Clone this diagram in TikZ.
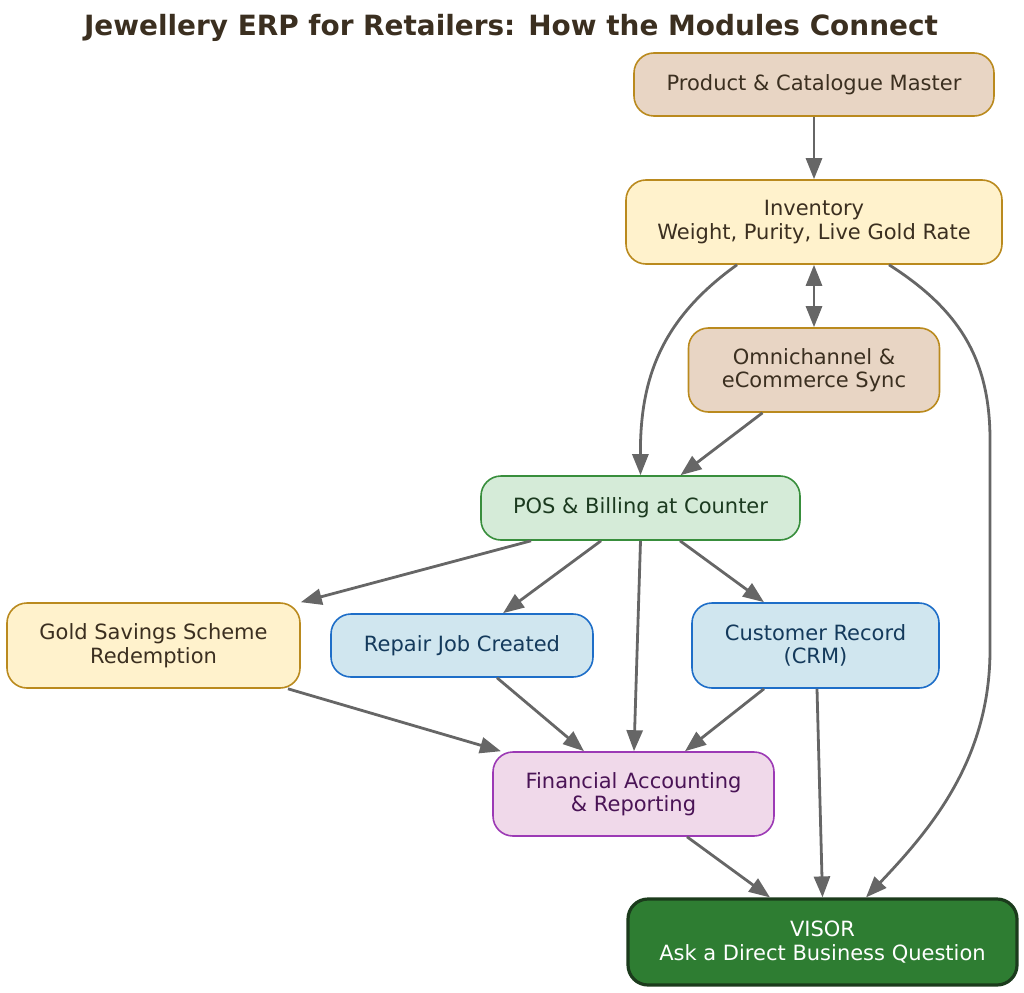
\documentclass[tikz,border=0pt]{standalone}
\usepackage{fontspec}
\setmainfont{DejaVu Sans}
\usetikzlibrary{arrows.meta}
\definecolor{edgegray}{HTML}{666666}
\definecolor{titlebrown}{HTML}{3B2F20}
\definecolor{tanfill}{HTML}{E8D5C4}
\definecolor{creamfill}{HTML}{FFF2CC}
\definecolor{goldline}{HTML}{BA8A1E}
\definecolor{greenfill}{HTML}{D5EBD8}
\definecolor{greenline}{HTML}{388E3C}
\definecolor{greentext}{HTML}{1B3A1F}
\definecolor{bluefill}{HTML}{D0E6EF}
\definecolor{blueline}{HTML}{1E6EC8}
\definecolor{bluetext}{HTML}{143A5C}
\definecolor{purplefill}{HTML}{F0D9EA}
\definecolor{purpleline}{HTML}{9C3AB5}
\definecolor{purpletext}{HTML}{4A1456}
\definecolor{visorfill}{HTML}{2E7D32}
\definecolor{visorline}{HTML}{1B3B1C}
\begin{document}
\begin{tikzpicture}[x=1pt,y=-1pt,
  box/.style={rounded corners=20pt, draw, line width=1.6pt, inner sep=0pt, align=center,
    font=\fontsize{21}{23.5}\selectfont},
  tanbox/.style={box, fill=tanfill, draw=goldline, text=titlebrown},
  creambox/.style={box, fill=creamfill, draw=goldline, text=titlebrown},
  greenbox/.style={box, fill=greenfill, draw=greenline, text=greentext},
  bluebox/.style={box, fill=bluefill, draw=blueline, text=bluetext},
  purplebox/.style={box, fill=purplefill, draw=purpleline, text=purpletext},
  visorbox/.style={box, fill=visorfill, draw=visorline, line width=3.2pt, text=white},
  arr/.style={draw=edgegray, line width=2.8pt, -{Triangle[length=21pt,width=16pt]}},
  dblarr/.style={draw=edgegray, line width=2.8pt, {Triangle[length=21pt,width=16pt]}-{Triangle[length=21pt,width=16pt]}}
]
\useasboundingbox (0,0) rectangle (1024,992);
\node[text=titlebrown, font=\fontsize{27.9}{30}\selectfont\bfseries] (title) at (511,28) {Jewellery ERP for Retailers: How the Modules Connect};

\node[tanbox, minimum width=360pt, minimum height=63pt] (product) at (814,84.5) {Product \& Catalogue Master};
\node[creambox, minimum width=376pt, minimum height=84pt] (inv) at (814,222) {Inventory\\Weight, Purity, Live Gold Rate};
\node[tanbox, minimum width=251pt, minimum height=84pt] (omni) at (814,370) {Omnichannel \&\\eCommerce Sync};
\node[greenbox, minimum width=319pt, minimum height=64pt] (pos) at (640.5,508) {POS \& Billing at Counter};
\node[creambox, minimum width=293pt, minimum height=85pt] (gold) at (153.5,645.5) {Gold Savings Scheme\\Redemption};
\node[bluebox, minimum width=262pt, minimum height=63pt] (repair) at (462,645.5) {Repair Job Created};
\node[bluebox, minimum width=247pt, minimum height=85pt] (crm) at (815.5,645.5) {Customer Record\\(CRM)};
\node[purplebox, minimum width=281pt, minimum height=84pt] (fin) at (633.5,794) {Financial Accounting\\\& Reporting};
\node[visorbox, minimum width=389pt, minimum height=86pt] (visor) at (822.5,942) {VISOR\\Ask a Direct Business Question};

\draw[arr] (product.south) -- (inv.north);
\draw[dblarr] (inv.south) -- (omni.north);
\draw[arr] ([xshift=-77pt]inv.south) .. controls (660,320) and (640,380) .. (pos.north);
\draw[arr] ([xshift=75pt]inv.south) .. controls (960,310) and (990,360) .. (990,440) -- (990,650) .. controls (990,760) and (930,830) .. ([xshift=43.5pt]visor.north);
\draw[arr] ([xshift=-51.5pt]omni.south) -- ([xshift=40pt]pos.north);
\draw[arr] ([xshift=-109.5pt]pos.south) -- (gold.north east);
\draw[arr] ([xshift=-39.5pt]pos.south) -- ([xshift=41pt]repair.north);
\draw[arr] (pos.south) -- ([xshift=0.5pt]fin.north);
\draw[arr] ([xshift=39.5pt]pos.south) -- ([xshift=-51.5pt]crm.north);
\draw[arr] ([xshift=134.5pt]gold.south) -- ([xshift=-132.5pt]fin.north);
\draw[arr] ([xshift=35pt]repair.south) -- ([xshift=-49.5pt]fin.north);
\draw[arr] ([xshift=-51.5pt]crm.south) -- ([xshift=51.5pt]fin.north);
\draw[arr] ([xshift=1.5pt]crm.south) -- (visor.north);
\draw[arr] ([xshift=53.5pt]fin.south) -- ([xshift=-52.5pt]visor.north);
\end{tikzpicture}
\end{document}
